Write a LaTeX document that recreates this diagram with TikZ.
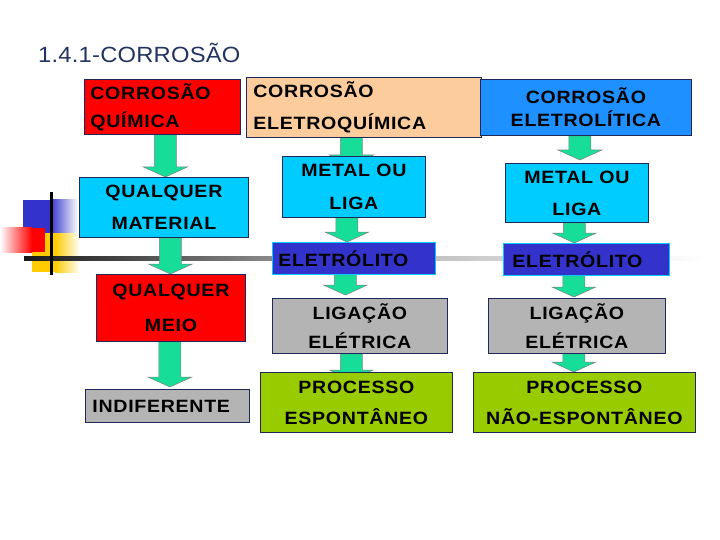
\documentclass[tikz,border=0pt]{standalone}
\usepackage{fontspec}
\setmainfont{Liberation Sans}
\newfontfamily\caixafont[FakeStretch=1.1, LetterSpace=4]{Liberation Sans}
\newfontfamily\titulofont[FakeStretch=1.08, LetterSpace=1]{Liberation Sans}
\usetikzlibrary{calc, backgrounds}
\definecolor{titulocol}{RGB}{34,52,96}
\definecolor{linhacol}{RGB}{30,40,90}
\definecolor{vermelho}{RGB}{255,0,0}
\definecolor{ciano}{RGB}{0,204,255}
\definecolor{pessego}{RGB}{252,204,156}
\definecolor{azulclaro}{RGB}{30,144,255}
\definecolor{azulescuro}{RGB}{51,51,204}
\definecolor{cinza}{RGB}{180,180,180}
\definecolor{verde}{RGB}{153,204,0}
\definecolor{setacol}{RGB}{22,222,152}
\definecolor{amarelo}{RGB}{255,204,0}
\tikzset{
  caixa/.style={draw=linhacol, line width=0.8pt, inner xsep=6pt, inner ysep=0pt,
    anchor=north west, text=black, align=center,
    font=\caixafont\bfseries\fontsize{17.8}{21}\selectfont},
  esquerda/.style={align=left, inner xsep=#1},
  seta/.style={fill=setacol, draw=black!50, line width=0.5pt},
}
% block arrow: dx, overlap, from, to
\newcommand{\seta}[4]{%
  \begin{scope}[on background layer]
    \path[seta] let \p1=($(#3.south)+(#1,0)$), \p2=($(#4.north)+(#1,#2)$) in
      (\x1-11pt,\y1) -- (\x1-11pt,\y2+10pt) -- (\x1-22pt,\y2+10pt) -- (\x1,\y2)
      -- (\x1+22pt,\y2+10pt) -- (\x1+11pt,\y2+10pt) -- (\x1+11pt,\y1) -- cycle;
  \end{scope}}

\begin{document}
\begin{tikzpicture}[x=1pt, y=-1pt]
\useasboundingbox (0,0) rectangle (720,540);

% decoration
\begin{scope}[on background layer]
  \fill[azulescuro] (23,200) rectangle (50,233);
  \shade[left color=azulescuro, right color=white] (50,200) rectangle (78,233);
  \fill[amarelo] (32,233) rectangle (55,272);
  \shade[left color=amarelo, right color=white] (55,233) rectangle (80,272);
  \shade[left color=white, right color=vermelho] (0,228) rectangle (32,252);
  \fill[vermelho] (32,228) rectangle (45,252);
  \shade[left color=black!90, right color=black!30] (24,256.5) rectangle (362,260.5);
  \shade[left color=black!30, right color=white] (362,256.5) rectangle (705,260.5);
  \fill[black] (50,192) rectangle (53,275);
\end{scope}

% title
\node[anchor=base west, text=titulocol, inner sep=0pt,
  font=\titulofont\fontsize{22}{24}\selectfont] (titulo) at (38,63) {1.4.1-CORROSÃO};

% left column
\node[caixa, esquerda=6pt, fill=vermelho, text width=144pt, minimum height=55pt] (cq) at (84,79)
  {CORROSÃO\\[7pt]QUÍMICA};
\node[caixa, fill=ciano, minimum width=169pt, minimum height=60pt] (qm) at (79,177)
  {QUALQUER\\[11pt]MATERIAL};
\node[caixa, fill=vermelho, minimum width=149pt, minimum height=67pt] (qmeio) at (96,274)
  {QUALQUER\\[14pt]MEIO};
\node[caixa, esquerda=7pt, fill=cinza, text width=150pt, minimum height=33pt] (ind) at (85,389)
  {INDIFERENTE};

% middle column
\node[caixa, esquerda=7pt, fill=pessego, text width=221pt, minimum height=60pt] (ce) at (246,77)
  {CORROSÃO\\[11pt]ELETROQUÍMICA};
\node[caixa, fill=ciano, minimum width=143pt, minimum height=61pt] (ml) at (282,156)
  {METAL OU\\[12pt]LIGA};
\node[caixa, esquerda=6pt, fill=azulescuro, draw=ciano, text width=151pt, minimum height=32pt] (el) at (272,242)
  {ELETRÓLITO};
\node[caixa, fill=cinza, minimum width=175pt, minimum height=55pt] (le) at (272,298)
  {LIGAÇÃO\\[8pt]ELÉTRICA};
\node[caixa, fill=verde, minimum width=192pt, minimum height=60pt] (pe) at (260,372)
  {PROCESSO\\[10pt]ESPONTÂNEO};

% right column
\node[caixa, fill=azulclaro, minimum width=211pt, minimum height=56pt] (cel) at (480,79)
  {CORROSÃO\\[2pt]ELETROLÍTICA};
\node[caixa, fill=ciano, minimum width=143pt, minimum height=59pt] (ml2) at (505,163)
  {METAL OU\\[11pt]LIGA};
\node[caixa, esquerda=9pt, fill=azulescuro, draw=ciano, text width=148pt, minimum height=32pt] (el2) at (503,243)
  {ELETRÓLITO};
\node[caixa, fill=cinza, minimum width=177pt, minimum height=55pt] (le2) at (488,298)
  {LIGAÇÃO\\[8pt]ELÉTRICA};
\node[caixa, fill=verde, minimum width=222pt, minimum height=60pt] (pne) at (473,372)
  {PROCESSO\\[10pt]NÃO-ESPONTÂNEO};

% arrows
\seta{3}{0}{cq}{qm}
\seta{6.5}{0}{qm}{qmeio}
\seta{-1}{-2}{qmeio}{ind}
\seta{-12.5}{9}{ce}{ml}
\seta{-7}{0}{ml}{el}
\seta{-8.5}{-3}{el}{le}
\seta{-8.5}{8}{le}{pe}
\seta{-6}{-3}{cel}{ml2}
\seta{-2.5}{0}{ml2}{el2}
\seta{-12.5}{-1}{el2}{le2}
\seta{-3}{0}{le2}{pne}

\end{tikzpicture}
\end{document}
